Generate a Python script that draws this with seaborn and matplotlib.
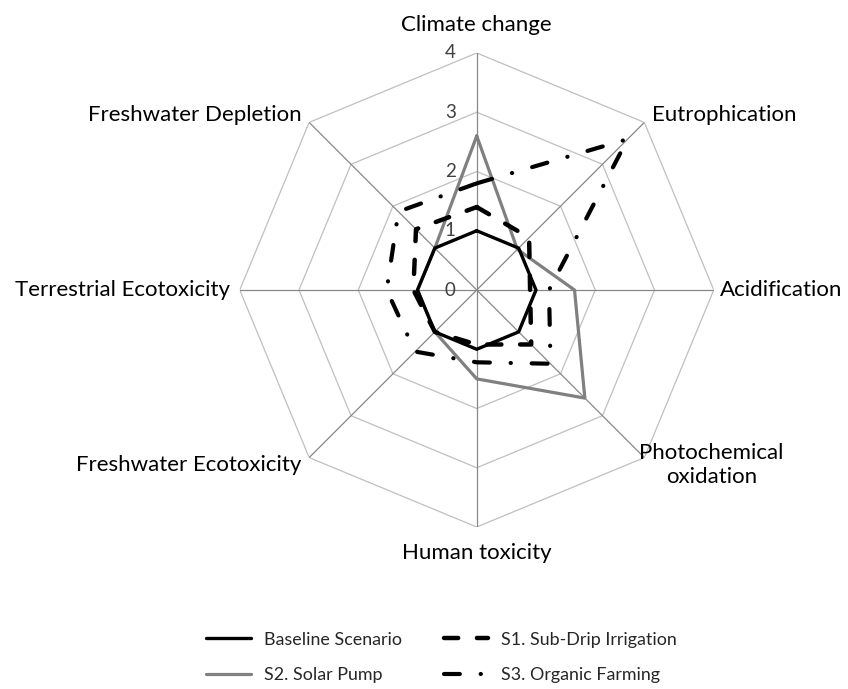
import numpy as np
import pandas as pd
import matplotlib
matplotlib.use("Agg")
import matplotlib.pyplot as plt
import seaborn as sns

# Datos del gráfico radar
categorias = ["Climate change", "Eutrophication", "Acidification",
              "Photochemical\noxidation", "Human toxicity",
              "Freshwater Ecotoxicity", "Terrestrial Ecotoxicity",
              "Freshwater Depletion"]
baseline = [1.0, 1.0, 1.0, 1.0, 1.0, 1.0, 1.0, 1.0]
s1_subdrip = [1.4, 1.25, 0.9, 1.3, 0.92, 1.0, 1.07, 1.45]
s2_solar = [2.6, 0.97, 1.65, 2.58, 1.5, 1.0, 1.0, 1.0]
s3_organic = [1.8, 3.6, 1.22, 1.76, 1.22, 1.47, 1.52, 1.87]
nombres = ["Baseline Scenario", "S1. Sub-Drip Irrigation",
           "S2. Solar Pump", "S3. Organic Farming"]
niveles = [0, 1, 2, 3, 4]

sns.set_style("white")
plt.rcParams['font.family'] = ['Lato', 'DejaVu Sans']

fig = plt.figure(figsize=(8.48, 6.89), dpi=100)
ax = fig.add_axes([0.2827, 0.2351, 0.559, 0.688], projection='polar')
ax.set_theta_zero_location('N')
ax.set_theta_direction(-1)
ax.grid(False)
ax.spines['polar'].set_visible(False)
ax.set_xticks([])
ax.set_yticks([])

angulos = np.linspace(0, 2 * np.pi, len(categorias), endpoint=False)
cerrado = np.append(angulos, 2 * np.pi)

# Rejilla octogonal
for lv in niveles[1:]:
    ax.plot(cerrado, [lv] * len(cerrado), color='#bfbfbf', lw=0.9, zorder=1)
for a in angulos:
    ax.plot([a, a], [0, niveles[-1]], color='#888888', lw=0.9, zorder=1)
ax.set_ylim(0, niveles[-1])

for lv in niveles:
    ax.annotate(str(lv), xy=(0, lv), xytext=(-21, 0), textcoords='offset pixels',
                ha='right', va='center', fontsize=13.5, color='#404040')

# Etiquetas de categorías
offsets = [(0, 28, 'center'), (8, 7, 'left'), (6, 0, 'left'), (67, -7, 'center'),
           (0, -26, 'center'), (-8, -7, 'right'), (-10, 0, 'right'), (-8, 7, 'right')]
for a, cat, (dx, dy, ha) in zip(angulos, categorias, offsets):
    ax.annotate(cat, xy=(a, niveles[-1]), xytext=(dx, dy), textcoords='offset pixels',
                ha=ha, va='center', multialignment='center', fontsize=16,
                linespacing=1.25, color='black', annotation_clip=False)

estilos = {
    nombres[0]: dict(color='black', lw=2.4, linestyle='-'),
    nombres[1]: dict(color='black', lw=3.2, linestyle=(0, (3.2, 4.2)),
                     dash_capstyle='round'),
    nombres[2]: dict(color='#808080', lw=2.3, linestyle='-'),
    nombres[3]: dict(color='black', lw=3.0, linestyle=(0, (3.8, 5.0, 0.05, 5.0)),
                     dash_capstyle='round'),
}
series = {nombres[0]: baseline, nombres[1]: s1_subdrip,
          nombres[2]: s2_solar, nombres[3]: s3_organic}

handles = {}
for nombre in [nombres[2], nombres[0], nombres[1], nombres[3]]:
    valores = list(series[nombre]) + [series[nombre][0]]
    df = pd.DataFrame({'theta': cerrado, 'valor': valores})
    n_prev = len(ax.lines)
    sns.lineplot(data=df, x='theta', y='valor', ax=ax, sort=False,
                 estimator=None, errorbar=None, zorder=3, **estilos[nombre])
    handles[nombre] = ax.lines[n_prev]

ax.set_xlabel('')
ax.set_ylabel('')
if ax.get_legend():
    ax.get_legend().remove()

orden = [nombres[0], nombres[2], nombres[1], nombres[3]]
fig.legend([handles[n] for n in orden], orden, loc='center',
           bbox_to_anchor=(0.5206, 0.0457), ncol=2, frameon=False,
           fontsize=12.9, handlelength=2.5, handletextpad=0.7,
           labelspacing=1.1, columnspacing=2.35)

plt.savefig("out.png", dpi=100)
plt.close()
